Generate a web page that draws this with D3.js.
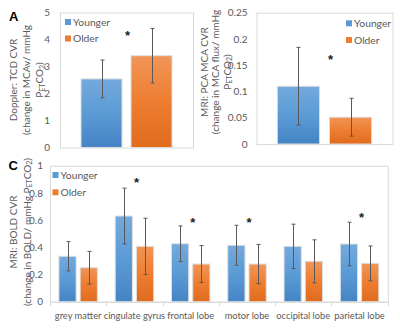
<!DOCTYPE html>
<html><head><meta charset="utf-8">
<script src="https://cdn.jsdelivr.net/npm/d3@7"></script>
<style>
html,body{margin:0;padding:0;background:#fff;}
svg{display:block;font-family:Lato,"Open Sans",sans-serif;}
</style></head>
<body>
<svg id="c" width="400" height="328"></svg>
<script>
// ---------- data ----------
const groups = ["Younger", "Older"];
// Panel A: Doppler TCD CVR
const dopplerMean = [2.54, 3.40];
const dopplerSD = [0.70, 1.01];
const dopplerTicks = [0, 1, 2, 3, 4, 5];
const dopplerStar = 4.17;
// Panel B: MRI PCA MCA CVR
const mriFlowMean = [0.110, 0.051];
const mriFlowSD = [0.074, 0.036];
const mriFlowTicks = [0, 0.05, 0.1, 0.15, 0.2, 0.25];
const mriFlowStar = 0.161;
// Panel C: MRI BOLD CVR by region
const regions = ["grey matter", "cingulate gyrus", "frontal lobe", "motor lobe", "occipital lobe", "parietal lobe"];
const boldYounger = [0.334, 0.630, 0.426, 0.415, 0.407, 0.424];
const boldYoungerSD = [0.108, 0.205, 0.131, 0.147, 0.163, 0.160];
const boldOlder = [0.250, 0.407, 0.277, 0.277, 0.297, 0.282];
const boldOlderSD = [0.120, 0.207, 0.136, 0.144, 0.158, 0.128];
const boldStar = [null, 0.883, 0.588, 0.588, null, 0.625];
const boldTicks = [0, 0.2, 0.4, 0.6, 0.8, 1];

// ---------- styling ----------
const svg = d3.select("#c");
const TXT = "#595959";
const defs = svg.append("defs");
function grad(id, top, mid, bot) {
  const g = defs.append("linearGradient").attr("id", id).attr("x1", 0).attr("y1", 0).attr("x2", 0).attr("y2", 1);
  g.append("stop").attr("offset", "0%").attr("stop-color", top);
  g.append("stop").attr("offset", "50%").attr("stop-color", mid);
  g.append("stop").attr("offset", "100%").attr("stop-color", bot);
}
grad("gBlue", "#74a9de", "#5b9bd5", "#4584c5");
grad("gOrange", "#f19557", "#ed7d31", "#e06c1d");
const fillOf = {Younger: "url(#gBlue)", Older: "url(#gOrange)"};
const legendColor = {Younger: "#5b9bd5", Older: "#ed7d31"};

function frame(x0, x1, yTop, yBot) {
  svg.append("rect").attr("x", x0 + 0.5).attr("y", yTop + 0.5)
    .attr("width", x1 - x0).attr("height", yBot - yTop)
    .attr("fill", "none").attr("stroke", "#d9d9d9").attr("stroke-width", 1);
}

function yAxis(y, x0, ticks, fmt, pad) {
  const ax = d3.axisLeft(y).tickValues(ticks).tickSize(0).tickPadding(pad).tickFormat(fmt);
  const g = svg.append("g").attr("transform", `translate(${x0},0)`).call(ax);
  g.select(".domain").remove();
  g.selectAll("text").attr("fill", TXT).attr("font-size", 10).attr("font-family", "Lato, sans-serif");
}

function bars(data, y, w) {
  svg.append("g").selectAll("rect").data(data).join("rect")
    .attr("x", d => d.x).attr("width", w)
    .attr("y", d => y(d.v)).attr("height", d => y(0) - y(d.v))
    .attr("fill", d => fillOf[d.g])
    .attr("stroke", "#dedede").attr("stroke-width", 1);
  const eg = svg.append("g").attr("stroke", "#595959").attr("stroke-width", 1);
  data.forEach(d => {
    const cx = Math.round(d.x + w / 2) + 0.5;
    const t = y(d.v + d.sd), b = y(d.v - d.sd);
    eg.append("line").attr("x1", cx).attr("x2", cx).attr("y1", t).attr("y2", b);
    eg.append("line").attr("x1", cx - 2).attr("x2", cx + 2).attr("y1", t).attr("y2", t);
    eg.append("line").attr("x1", cx - 2).attr("x2", cx + 2).attr("y1", b).attr("y2", b);
  });
}

function star(cx, cy) {
  svg.append("text").attr("x", cx).attr("y", cy + 5).attr("text-anchor", "middle")
    .attr("font-size", 13).attr("font-weight", "bold").attr("fill", "#222")
    .attr("font-family", "Liberation Sans, Arial, sans-serif").text("*");
}

function legend(x, ys) {
  groups.forEach((gname, i) => {
    svg.append("rect").attr("x", x).attr("y", ys[i] - 3).attr("width", 6).attr("height", 6).attr("fill", legendColor[gname]);
    svg.append("text").attr("x", x + 8).attr("y", ys[i] + 3.8).attr("font-size", 10.3).attr("fill", TXT).text(gname);
  });
}

function yLabel(cx, cy, lines, gap) {
  const g = svg.append("g").attr("transform", `translate(${cx},${cy}) rotate(-90)`);
  lines.forEach((ln, i) => {
    const t = g.append("text").attr("x", 0).attr("y", i * gap).attr("text-anchor", "middle")
      .attr("dominant-baseline", "central").attr("font-size", 10).attr("fill", TXT);
    let inSub = false;
    ln.forEach(part => {
      const ts = t.append("tspan").text(part.s);
      if (part.sub) {
        ts.attr("font-size", 7);
        if (!inSub) ts.attr("dy", 2.5);
        inSub = true;
      } else {
        if (inSub) ts.attr("dy", -2.5);
        inSub = false;
      }
    });
  });
}
const petco2 = [{s: "P"}, {s: "ET", sub: true}, {s: "CO"}, {s: "2", sub: true}, {s: ")"}];

// ---------- Panel A ----------
{
  const x0 = 60, x1 = 193, yT = 12.5, yB = 147.5;
  const x = d3.scaleBand().domain(groups).range([x0, x1]).paddingInner(0.18).paddingOuter(0.42);
  const y = d3.scaleLinear().domain([0, 5]).range([yB, yT]);
  frame(x0, x1, yT, yB);
  yAxis(y, x0, dopplerTicks, d3.format("d"), 10);
  bars(groups.map((g, i) => ({g, x: x(g), v: dopplerMean[i], sd: dopplerSD[i]})), y, x.bandwidth());
  star((x0 + x1) / 2 + 1, y(dopplerStar));
  legend(65, [22, 38.5]);
  yLabel(13, 80, [[{s: "Doppler: TCD CVR"}], [{s: "(change in MCAv/ mmHg"}], petco2], 13);
  svg.append("text").attr("x", 9).attr("y", 20.5).attr("font-size", 13).attr("font-weight", "bold")
    .attr("font-family", "Liberation Sans, Arial, sans-serif").attr("fill", "#000").text("A");
}

// ---------- Panel B ----------
{
  const x0 = 256.5, x1 = 392.5, yT = 12.7, yB = 144;
  const x = d3.scaleBand().domain(groups).range([x0, x1]).paddingInner(0.19).paddingOuter(0.4);
  const y = d3.scaleLinear().domain([0, 0.25]).range([yB, yT]);
  frame(x0, x1, yT, yB);
  yAxis(y, x0, mriFlowTicks, d => d === 0 ? "0" : String(+d.toFixed(2)), 9);
  bars(groups.map((g, i) => ({g, x: x(g), v: mriFlowMean[i], sd: mriFlowSD[i]})), y, x.bandwidth());
  star((x0 + x1) / 2 + 6, y(mriFlowStar));
  legend(346, [23.3, 40]);
  yLabel(203.5, 72, [[{s: "MRI: PCA MCA CVR"}], [{s: "(change in MCA flux/ mmHg"}], petco2], 11.7);
}

// ---------- Panel C ----------
{
  const x0 = 50, x1 = 387.7, yT = 165.7, yB = 301.7;
  const xo = d3.scaleBand().domain(regions).range([x0, x1]).padding(0);
  const xi = d3.scaleBand().domain(groups).range([0, xo.bandwidth()]).paddingInner(0.19).paddingOuter(0.42);
  const y = d3.scaleLinear().domain([0, 1]).range([yB, yT]);
  frame(x0, x1, yT, yB);
  yAxis(y, x0, boldTicks, d => String(+d.toFixed(1)), 7);
  const xa = svg.append("g").attr("transform", `translate(0,${yB + 0.5})`);
  xa.append("line").attr("x1", x0).attr("x2", x1).attr("stroke", "#d9d9d9");
  regions.concat([null]).forEach(r => {
    const xx = Math.round(r ? xo(r) : x1) + 0.5;
    xa.append("line").attr("x1", xx).attr("x2", xx).attr("y1", 0).attr("y2", 4).attr("stroke", "#d9d9d9");
  });
  svg.append("g").selectAll("text").data(regions).join("text")
    .attr("x", d => xo(d) + xo.bandwidth() / 2).attr("y", 318.5)
    .attr("text-anchor", "middle").attr("font-size", 9.3).attr("fill", TXT).text(d => d);
  const data = [];
  regions.forEach((r, i) => {
    data.push({g: "Younger", x: xo(r) + xi("Younger"), v: boldYounger[i], sd: boldYoungerSD[i]});
    data.push({g: "Older", x: xo(r) + xi("Older"), v: boldOlder[i], sd: boldOlderSD[i]});
  });
  bars(data, y, xi.bandwidth());
  regions.forEach((r, i) => {
    if (boldStar[i] != null) star(xo(r) + xo.bandwidth() / 2 + 2, y(boldStar[i]));
  });
  legend(52.5, [175, 192.3]);
  yLabel(13, 232, [[{s: "MRI: BOLD CVR"}], [{s: "(change in BOLD/ mmHg P"}, {s: "ET", sub: true}, {s: "CO"}, {s: "2", sub: true}, {s: ")"}]], 13.5);
  svg.append("text").attr("x", 8.5).attr("y", 170).attr("font-size", 13).attr("font-weight", "bold")
    .attr("font-family", "Liberation Sans, Arial, sans-serif").attr("fill", "#000").text("C");
}
</script>
</body></html>
